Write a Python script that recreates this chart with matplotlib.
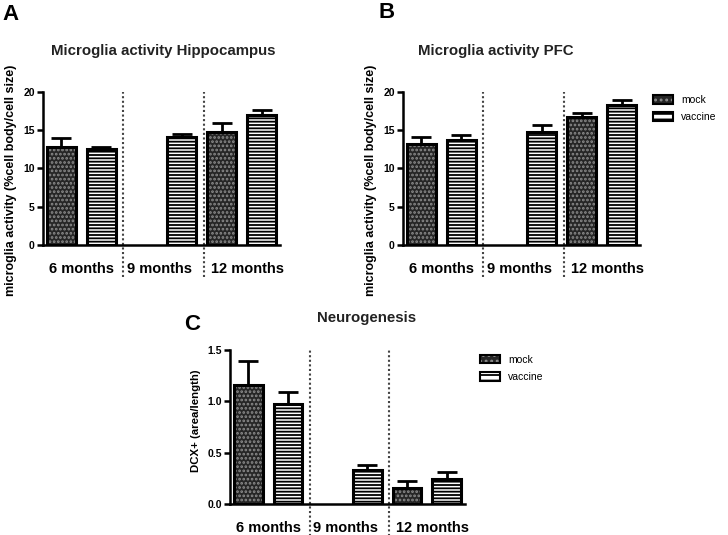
import matplotlib
matplotlib.use("Agg")
import numpy as np
import matplotlib.pyplot as plt
import matplotlib.transforms as mtransforms
from matplotlib.patches import Patch

# =========================
# DATA
# =========================
groups = ["6 months", "9 months", "12 months"]

hip_mock     = [12.8, np.nan, 14.8]
hip_mock_err = [1.2, 0.0, 1.1]
hip_vac      = [12.5, 14.1, 17.0]
hip_vac_err  = [0.3, 0.35, 0.7]

pfc_mock     = [13.2, np.nan, 16.7]
pfc_mock_err = [0.9, 0.0, 0.5]
pfc_vac      = [13.7, 14.8, 18.3]
pfc_vac_err  = [0.7, 0.9, 0.7]

neu_mock     = [1.16, np.nan, 0.16]
neu_mock_err = [0.23, 0.0, 0.06]
neu_vac      = [0.97, 0.33, 0.24]
neu_vac_err  = [0.12, 0.05, 0.07]

# =========================
# STYLE
# =========================
plt.rcParams["font.family"] = ["Liberation Sans", "DejaVu Sans"]
plt.rcParams["hatch.linewidth"] = 1.3

MOCK_FACE = "#262626"
MOCK_HATCH = "#8c8c8c"
W = 0.72

fig = plt.figure(figsize=(7.28, 5.35), dpi=100)

def px_axes(left, top, right, bottom):
    return fig.add_axes([left / 728, 1 - bottom / 535, (right - left) / 728, (bottom - top) / 535])

def draw_panel(ax, mock, mock_err, vac, vac_err, yticks, ylabel, title, title_x, title_y,
               label_y=-0.155, fmt="%d"):
    xm = np.arange(len(groups)) * 2
    xv = xm + 1
    mock = np.array(mock, dtype=float)
    vac = np.array(vac, dtype=float)

    ok = ~np.isnan(mock)
    # mock: dark fill with light speckle, then black outline
    ax.bar(xm[ok], mock[ok], W, facecolor=MOCK_FACE, edgecolor=MOCK_HATCH, hatch="....", linewidth=0, zorder=2)
    ax.bar(xm[ok], mock[ok], W, fill=False, edgecolor="black", linewidth=2.2, zorder=3)
    ax.errorbar(xm[ok], mock[ok], yerr=[np.zeros(ok.sum()), np.array(mock_err)[ok]],
                fmt="none", ecolor="black", elinewidth=2, capsize=7, capthick=2, zorder=4)

    # vaccine: white with horizontal lines
    ax.bar(xv, vac, W, facecolor="white", edgecolor="black", hatch="-----", linewidth=0, zorder=2)
    ax.bar(xv, vac, W, fill=False, edgecolor="black", linewidth=2.2, zorder=3)
    ax.errorbar(xv, vac, yerr=[np.zeros(len(vac)), vac_err],
                fmt="none", ecolor="black", elinewidth=2, capsize=7, capthick=2, zorder=4)

    ax.set_xlim(-0.46, 5.46)
    ax.set_ylim(0, yticks[-1])
    ax.set_yticks(yticks)
    ax.yaxis.set_major_formatter(plt.FormatStrFormatter(fmt))
    ax.set_xticks([])
    for s in ["top", "right"]:
        ax.spines[s].set_visible(False)
    for s in ["left", "bottom"]:
        ax.spines[s].set_linewidth(1.8)
    ax.tick_params(axis="y", length=4, width=1.8, labelsize=7.5, pad=2)
    for t in ax.get_yticklabels():
        t.set_fontweight("bold")

    # label anchor is the right edge of the rotated text
    ax.set_ylabel(ylabel, fontsize=9, fontweight="bold")
    ax.yaxis.set_label_coords(-0.11, 0.42)

    trans = mtransforms.blended_transform_factory(ax.transData, ax.transAxes)
    for xd in [1.55, 3.55]:
        ax.plot([xd, xd], [-0.21, 1.0], transform=trans, color="#444444", linestyle=(0, (1, 1.2)),
                linewidth=1.5, clip_on=False, zorder=1)
    for xg, g in zip([0.5, 2.45, 4.65], groups):
        ax.text(xg, label_y, g, transform=trans, ha="center", va="center", fontsize=10.5, fontweight="bold")

    ax.text(title_x, title_y, title, transform=ax.transAxes, ha="center", va="center",
            fontsize=10.8, fontweight="bold", color="#222222")

def add_legend(ax, x, y):
    h_mock = (Patch(facecolor=MOCK_FACE, edgecolor=MOCK_HATCH, hatch="...", linewidth=0),
              Patch(fill=False, edgecolor="black", linewidth=1.5))
    h_vac = (Patch(facecolor="white", edgecolor="black", hatch="---", linewidth=0),
             Patch(fill=False, edgecolor="black", linewidth=1.5))
    ax.legend([h_mock, h_vac], ["mock", "vaccine"], loc="upper left", bbox_to_anchor=(x, y),
              frameon=False, fontsize=7.5, borderpad=0, borderaxespad=0,
              handlelength=1.9, handleheight=0.9, handletextpad=0.8, labelspacing=0.7)

# A: Hippocampus
axA = px_axes(43, 92, 280, 245)
draw_panel(axA, hip_mock, hip_mock_err, hip_vac, hip_vac_err, [0, 5, 10, 15, 20],
           "microglia activity (%cell body/cell size)", "Microglia activity Hippocampus", 0.506, 1.27)

# B: PFC
axB = px_axes(403, 92, 640, 245)
draw_panel(axB, pfc_mock, pfc_mock_err, pfc_vac, pfc_vac_err, [0, 5, 10, 15, 20],
           "microglia activity (%cell body/cell size)", "Microglia activity PFC", 0.39, 1.27)
add_legend(axB, 1.055, 0.98)

# C: Neurogenesis
axC = px_axes(230, 350, 465, 504)
draw_panel(axC, neu_mock, neu_mock_err, neu_vac, neu_vac_err, [0.0, 0.5, 1.0, 1.5],
           "DCX+ (area/length)", "Neurogenesis", 0.58, 1.21, fmt="%.1f")
axC.yaxis.label.set_fontsize(8.2)
axC.yaxis.set_label_coords(-0.123, 0.54)
add_legend(axC, 1.064, 0.97)

# panel letters
fig.text(2 / 728, 1 - 15 / 535, "A", fontsize=16, fontweight="bold", va="center", ha="left")
fig.text(378 / 728, 1 - 13 / 535, "B", fontsize=16, fontweight="bold", va="center", ha="left")
fig.text(184 / 728, 1 - 324 / 535, "C", fontsize=16, fontweight="bold", va="center", ha="left")

fig.savefig("out.png", dpi=100)
